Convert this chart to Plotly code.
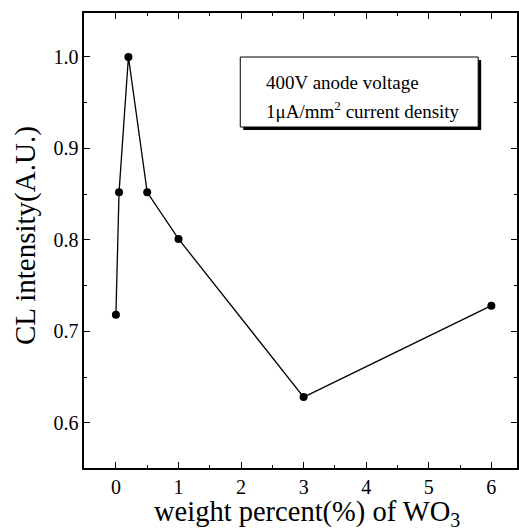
import plotly.graph_objects as go

# Data
wt_percent = [0, 0.05, 0.2, 0.5, 1, 3, 6]
cl_intensity = [0.718, 0.852, 1.0, 0.852, 0.801, 0.628, 0.728]
x_ticks = [0, 1, 2, 3, 4, 5, 6]
y_ticks = [0.6, 0.7, 0.8, 0.9, 1.0]
y_tick_labels = ["0.6", "0.7", "0.8", "0.9", "1.0"]
x_title = "weight percent(%) of WO<sub>3</sub>"
y_title = "CL intensity(A.U.)"
note_lines = ["400V anode voltage", "1\u03bcA/mm<sup>2</sup> current density"]

FONT = "Liberation Serif, Times New Roman, serif"
W, H = 519, 532
L, R, T, B = 84, 0, 13, 64
pw, ph = W - L - R, H - T - B


def px(xp):
    return (xp - L) / pw


def py(yp):
    return (H - B - yp) / ph


fig = go.Figure()
fig.add_trace(go.Scatter(
    x=wt_percent, y=cl_intensity, mode="lines+markers",
    line=dict(color="black", width=1.3),
    marker=dict(color="black", size=8),
    showlegend=False, hoverinfo="skip",
))

axis_common = dict(
    showgrid=False, zeroline=False, showline=True, linecolor="black",
    linewidth=1.6, mirror="ticks", ticks="inside", ticklen=6,
    tickcolor="black", tickwidth=1,
    tickfont=dict(family=FONT, size=20, color="black"),
)

fig.update_xaxes(
    range=[-0.51, 6.41], tickvals=x_ticks,
    minor=dict(dtick=0.5, ticks="inside", ticklen=3, tickcolor="black"),
    **axis_common,
)
fig.update_yaxes(
    range=[0.5505, 1.048], tickvals=y_ticks, ticktext=y_tick_labels,
    minor=dict(dtick=0.05, ticks="inside", ticklen=3, tickcolor="black"),
    **axis_common,
)

# Note box with shadow
bx0, bx1, by_top, by_bot = 241, 480, 57, 127
sh = 3
fig.add_shape(type="rect", xref="paper", yref="paper",
              x0=px(bx0 + sh), x1=px(bx1 + sh), y0=py(by_bot + sh), y1=py(by_top + sh),
              fillcolor="black", line=dict(width=0))
fig.add_shape(type="rect", xref="paper", yref="paper",
              x0=px(bx0), x1=px(bx1), y0=py(by_bot), y1=py(by_top),
              fillcolor="white", line=dict(color="black", width=1))

for line_text, yc in zip(note_lines, [82, 110]):
    fig.add_annotation(text=line_text, xref="paper", yref="paper",
                       x=px(265), y=py(yc), xanchor="left", yanchor="middle",
                       showarrow=False,
                       font=dict(family=FONT, size=19, color="black"))

# Axis titles
fig.add_annotation(text=x_title, xref="paper", yref="paper",
                   x=px(308), y=0, yshift=-45, xanchor="center", yanchor="middle",
                   showarrow=False, font=dict(family=FONT, size=28.5, color="black"))
fig.add_annotation(text=y_title, xref="paper", yref="paper",
                   x=0, xshift=-(L - 25), y=py(236), xanchor="center", yanchor="middle",
                   textangle=-90, showarrow=False,
                   font=dict(family=FONT, size=29, color="black"))

fig.update_layout(
    width=W, height=H,
    margin=dict(l=L, r=R, t=T, b=B, pad=0),
    paper_bgcolor="white", plot_bgcolor="white",
)

fig.write_html(
    "out.html",
    config={"displayModeBar": False, "staticPlot": True},
    post_script="document.body.style.margin='0';document.body.style.overflow='hidden';",
)
